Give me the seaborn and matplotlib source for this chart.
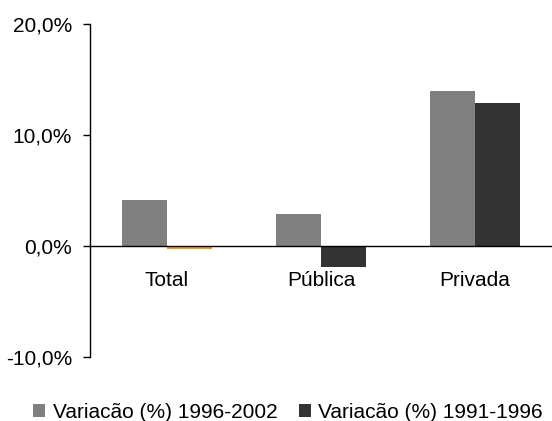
import pandas as pd
import matplotlib
matplotlib.use("Agg")
import matplotlib.pyplot as plt
import seaborn as sns
from matplotlib.ticker import FuncFormatter

# data
categories = ["Total", "Pública", "Privada"]
periods = ["Variacão (%) 1996-2002", "Variacão (%) 1991-1996"]
var_1996_2002 = [4.15, 2.85, 14.0]
var_1991_1996 = [-0.3, -1.85, 12.9]
yticks = [-10, 0, 10, 20]

df = pd.DataFrame({
    "Setor": categories * 2,
    "Periodo": [periods[0]] * 3 + [periods[1]] * 3,
    "Valor": var_1996_2002 + var_1991_1996,
})

sns.set_theme(style="white")
plt.rcParams["font.family"] = ["Liberation Sans", "DejaVu Sans"]

fig = plt.figure(figsize=(5.52, 4.21), dpi=100)
ax = fig.add_axes([0.163, 0.152, 0.837, 0.791])

sns.barplot(data=df, x="Setor", y="Valor", hue="Periodo", order=categories,
            hue_order=periods, palette=["#808080", "#333333"], width=0.59,
            saturation=1, linewidth=0, ax=ax, legend=True)

# the tiny negative Total bar shows up orange in the original
ax.containers[1][0].set_facecolor("#FF9900")

ax.set_ylim(-10, 20)
ax.set_xlim(-0.5, 2.5)
ax.set_yticks(yticks)
ax.yaxis.set_major_formatter(FuncFormatter(lambda v, p: f"{v:.1f}%".replace(".", ",")))
ax.set_xlabel("")
ax.set_ylabel("")

for s in ["top", "right"]:
    ax.spines[s].set_visible(False)
ax.spines["bottom"].set_position(("data", 0))
for s in ["left", "bottom"]:
    ax.spines[s].set_color("black")
    ax.spines[s].set_linewidth(1.0)
    ax.spines[s].set_zorder(5)

ax.tick_params(axis="y", direction="out", length=5, width=1, color="black",
               labelsize=15, labelcolor="black", pad=8, left=True)
ax.tick_params(axis="x", length=0, labelsize=15, labelcolor="black", pad=18)

handles, labels = ax.get_legend_handles_labels()
ax.get_legend().remove()
fig.legend(handles, labels, loc="center", bbox_to_anchor=(0.522, 0.02), ncol=2,
           frameon=False, fontsize=15, handlelength=0.58, handleheight=0.58,
           handletextpad=0.35, columnspacing=1.05, borderpad=0, labelcolor="black")

fig.savefig("out.png", dpi=100)
